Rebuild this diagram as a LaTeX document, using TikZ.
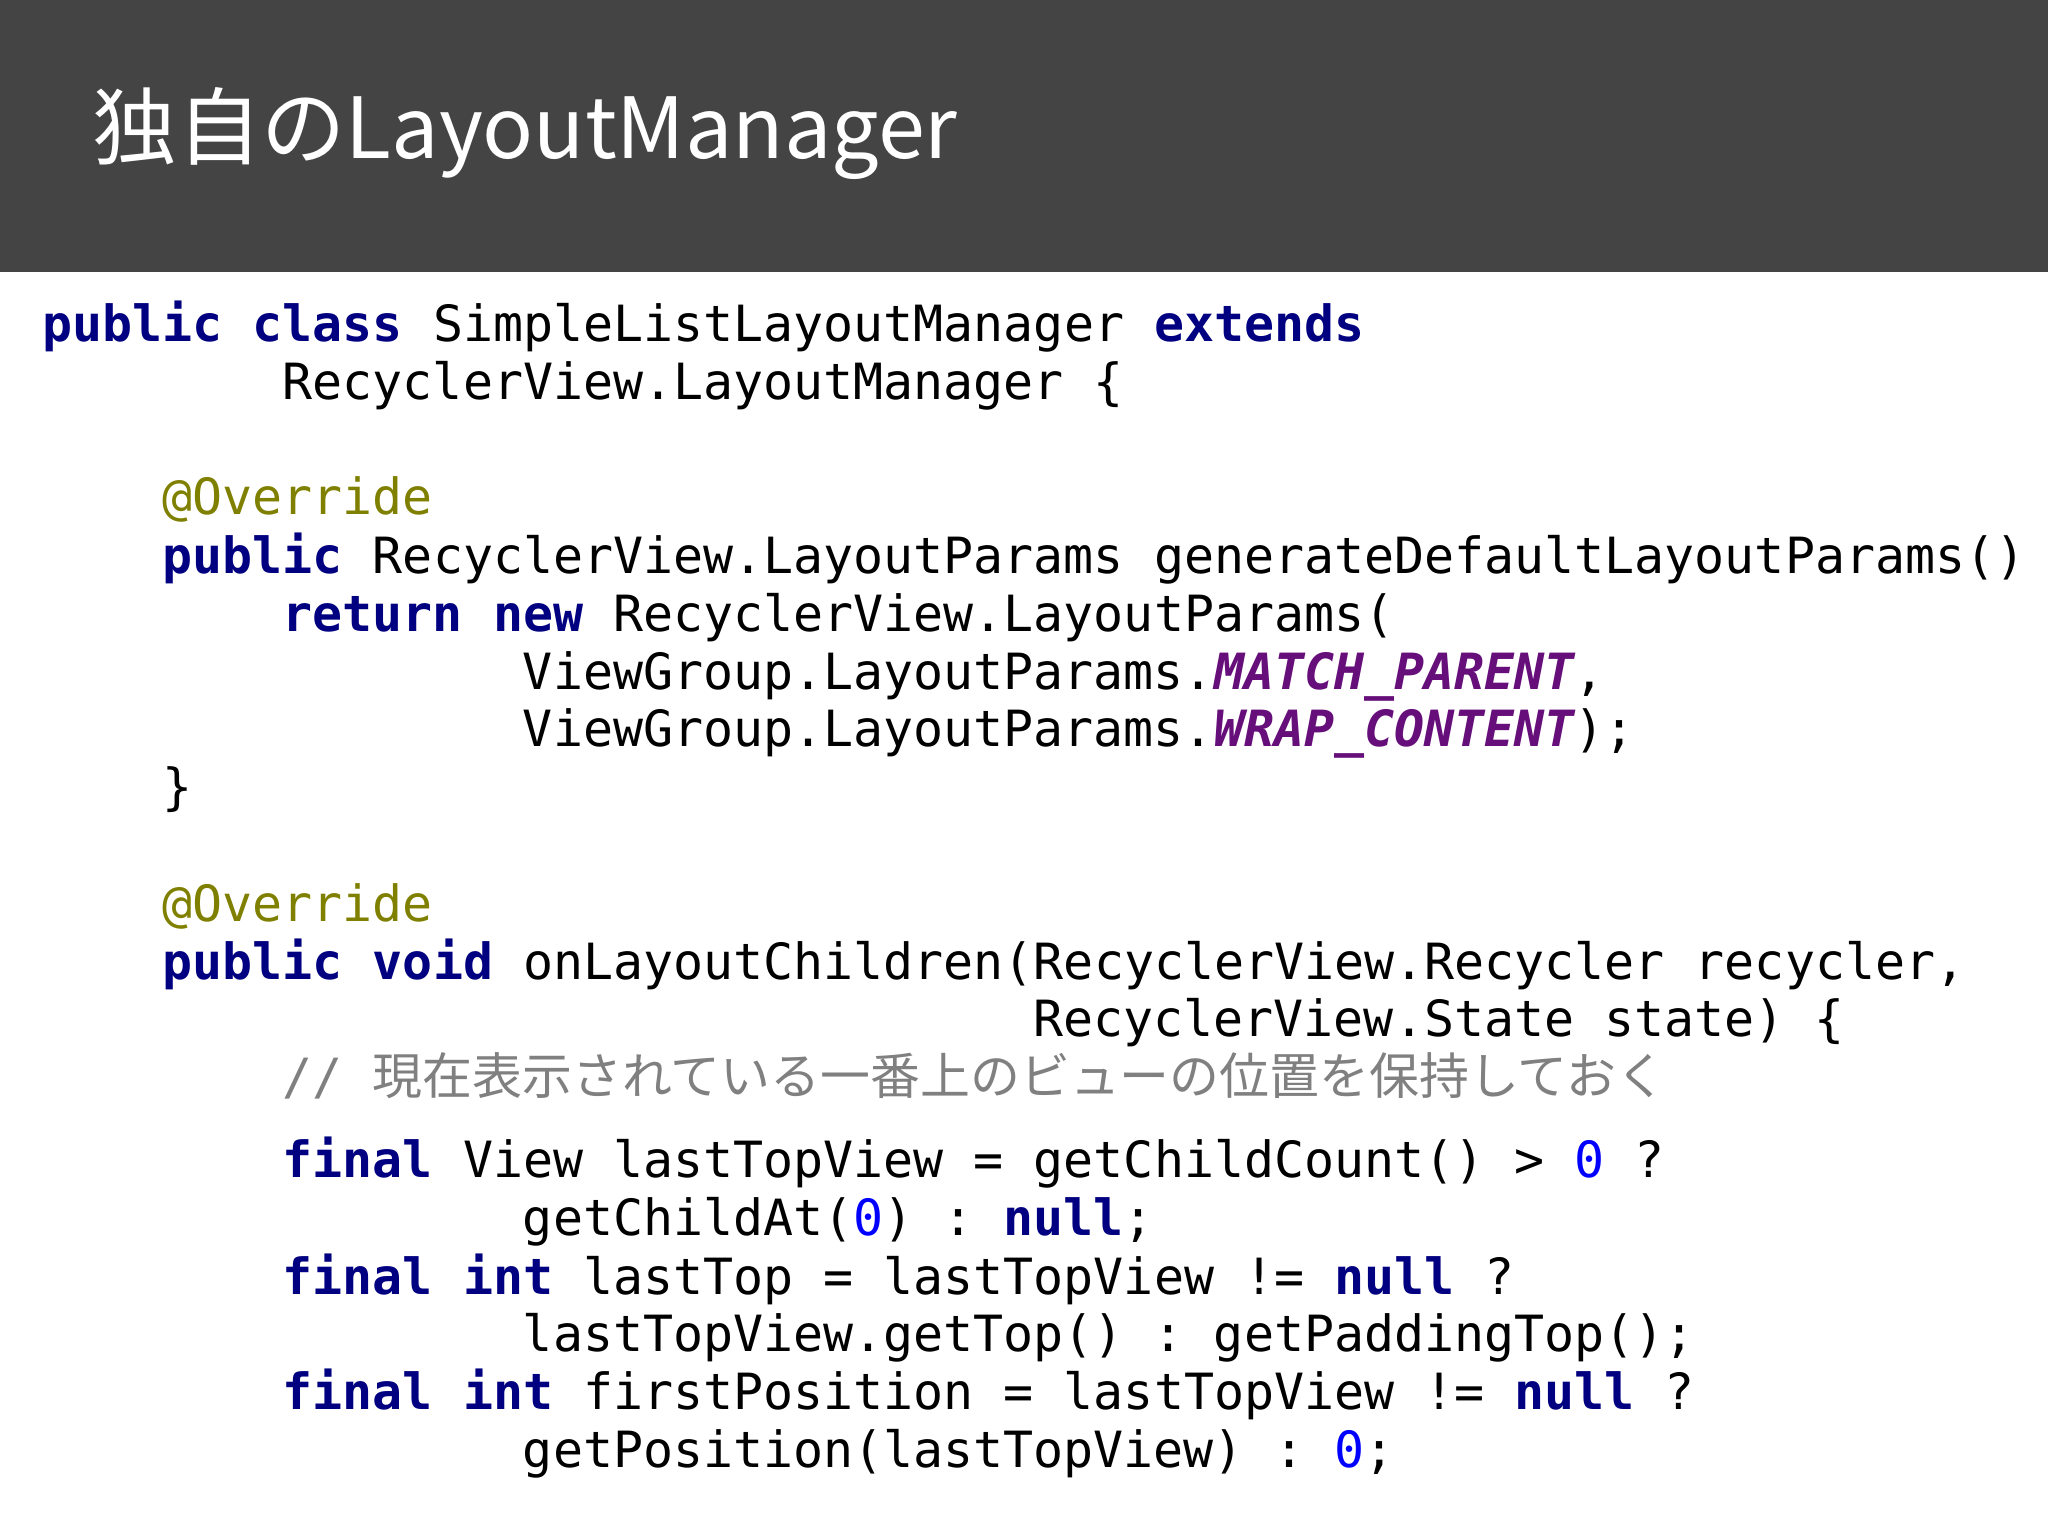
\documentclass[tikz,border=0pt]{standalone}
\usepackage{fontspec}
\setmonofont{DejaVu Sans Mono}
\newfontfamily\cjk{Noto Sans CJK JP}
\definecolor{kw}{HTML}{000080}
\definecolor{an}{HTML}{808000}
\definecolor{cst}{HTML}{660E7A}
\definecolor{nm}{HTML}{0000FF}
\definecolor{cm}{HTML}{808080}
\definecolor{bar}{HTML}{444444}
\newcommand\kw[1]{{\bfseries\color{kw}#1}}
\newcommand\an[1]{{\color{an}#1}}
\newcommand\cst[1]{{\bfseries\itshape\color{cst}#1}}
\newcommand\nm[1]{{\color{nm}#1}}
\newcommand\cl[4]{\node[codeline] (#1) at ({0.418+#2*0.3003},{15.36-#3*0.01306}) {#4};}
\begin{document}
\begin{tikzpicture}[codeline/.style={anchor=mid west,inner sep=0pt,font=\ttfamily\fontsize{14.2pt}{17pt}\selectfont}]
\useasboundingbox (0,0) rectangle (20.48,15.36);
\fill[white] (0,0) rectangle (20.48,15.36);
\fill[bar] (0,15.36-2.717) rectangle (20.48,15.36);
\node[anchor=west,text=white,inner sep=0pt,font=\cjk\fontsize{24pt}{28pt}\selectfont] (title) at (0.92,14.02) {独自のLayoutManager};
\cl{a1}{0}{256}{\kw{public class} SimpleListLayoutManager \kw{extends}}
\cl{a2}{8}{300}{RecyclerView.LayoutManager \{}
\cl{a3}{4}{388}{\an{@Override}}
\cl{a4}{4}{433}{\kw{public} RecyclerView.LayoutParams generateDefaultLayoutParams()}
\cl{a5}{8}{478}{\kw{return new} RecyclerView.LayoutParams(}
\cl{a6}{16}{522}{ViewGroup.LayoutParams.\cst{MATCH\_PARENT},}
\cl{a7}{16}{566}{ViewGroup.LayoutParams.\cst{WRAP\_CONTENT});}
\cl{a8}{4}{610}{\}}
\cl{a9}{4}{700}{\an{@Override}}
\cl{a10}{4}{744}{\kw{public void} onLayoutChildren(RecyclerView.Recycler recycler,}
\cl{a11}{33}{788}{RecyclerView.State state) \{}
\cl{a12}{8}{832}{\color{cm}// {\cjk 現在表示されている一番上のビューの位置を保持しておく}}
\cl{a13}{8}{896}{\kw{final} View lastTopView = getChildCount() > \nm{0} ?}
\cl{a14}{16}{940}{getChildAt(\nm{0}) : \kw{null};}
\cl{a15}{8}{985}{\kw{final int} lastTop = lastTopView != \kw{null} ?}
\cl{a16}{16}{1029}{lastTopView.getTop() : getPaddingTop();}
\cl{a17}{8}{1073}{\kw{final int} firstPosition = lastTopView != \kw{null} ?}
\cl{a18}{16}{1118}{getPosition(lastTopView) : \nm{0};}
\end{tikzpicture}
\end{document}
